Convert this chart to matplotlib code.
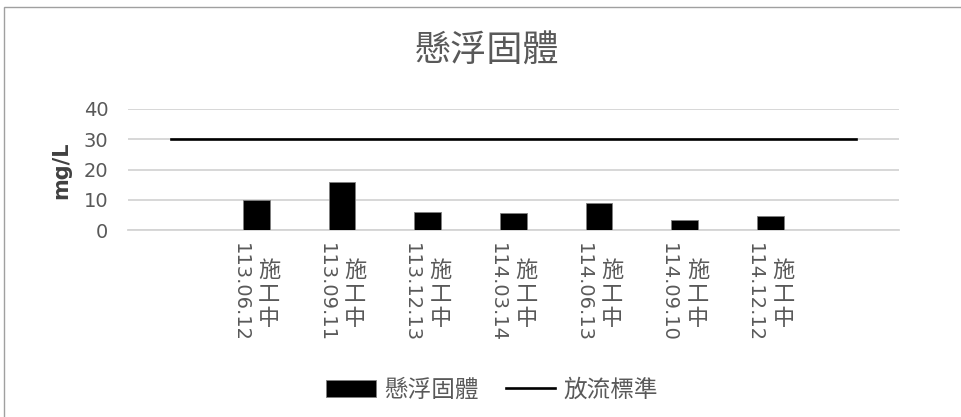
import matplotlib.pyplot as plt
from matplotlib.patches import Rectangle, Patch
from matplotlib.lines import Line2D

plt.rcParams['font.family'] = ['DejaVu Sans', 'Noto Sans CJK TC']

# sampling dates (ROC calendar) and site status
dates = ['113.06.12', '113.09.11', '113.12.13', '114.03.14',
         '114.06.13', '114.09.10', '114.12.12']
status = ['施工中'] * 7
ss_values = [9.8, 15.8, 5.9, 5.6, 8.9, 3.3, 4.6]   # mg/L
standard = [30] * 9                                  # discharge limit, spans the padded slots
yticks = [0, 10, 20, 30, 40]

txt = '#595959'
W, H = 961, 417
fig = plt.figure(figsize=(W / 100, H / 100), dpi=100)
ax = fig.add_axes([127.7 / W, 1 - 230 / H, (899 - 127.7) / W, (230 - 109) / H])

slots = list(range(len(standard)))
bar_x = slots[1:-1]
ax.bar(bar_x, ss_values, width=0.31, color='black', edgecolor='#7f7f7f', linewidth=0.6, zorder=3)
ax.plot(slots, standard, color='black', linewidth=1.9, zorder=4)

ax.set_xlim(-0.5, len(slots) - 0.5)
ax.set_ylim(0, 40)
ax.set_yticks(yticks)
ax.yaxis.grid(True, color='#d4d4d4', linewidth=1.3)
ax.set_axisbelow(True)
for s in ax.spines.values():
    s.set_visible(False)
ax.spines['bottom'].set_visible(True)
ax.spines['bottom'].set_color('#d4d4d4')
ax.spines['bottom'].set_linewidth(1.3)
ax.tick_params(axis='y', length=0, pad=14, labelsize=14, labelcolor=txt)
ax.set_xticks([])

# two-column category labels: rotated date + stacked status characters
for x, d, st in zip(bar_x, dates, status):
    ax.annotate(d, xy=(x, 0), xycoords='data', xytext=(-11.5, -9.5), textcoords='offset points',
                rotation=-90, ha='center', va='top', fontsize=14, color=txt)
    ax.annotate('\n'.join(st), xy=(x, 0), xycoords='data', xytext=(9.5, -21), textcoords='offset points',
                ha='center', va='top', fontsize=16, color=txt, linespacing=1.05,
                family=['Noto Sans CJK TC'])

fig.text(61 / W, 1 - 170 / H, 'mg/L', rotation=90, ha='center', va='center',
         fontsize=15, color='#404040', fontweight='bold')
fig.text(487 / W, 1 - 52 / H, '懸浮固體', ha='center', va='center', fontsize=26,
         color=txt, family=['Noto Sans CJK TC'])

handles = [Patch(facecolor='black', edgecolor='#7f7f7f', linewidth=0.6),
           Line2D([], [], color='black', linewidth=1.9)]
leg = fig.legend(handles, ['懸浮固體', '放流標準'], loc='center', bbox_to_anchor=(492 / W, 1 - 390 / H),
                 ncol=2, frameon=False, handlelength=2.1, handleheight=0.7, handletextpad=0.35,
                 columnspacing=1.15, prop={'family': ['Noto Sans CJK TC'], 'size': 17})
for t in leg.get_texts():
    t.set_color(txt)

# chart border
fig.patches.append(Rectangle((4 / W, -0.1), 1.2, 1.1 - 7 / H, transform=fig.transFigure,
                             fill=False, edgecolor='#a0a0a0', linewidth=1.0))

fig.savefig('out.png', dpi=100, facecolor='white')
